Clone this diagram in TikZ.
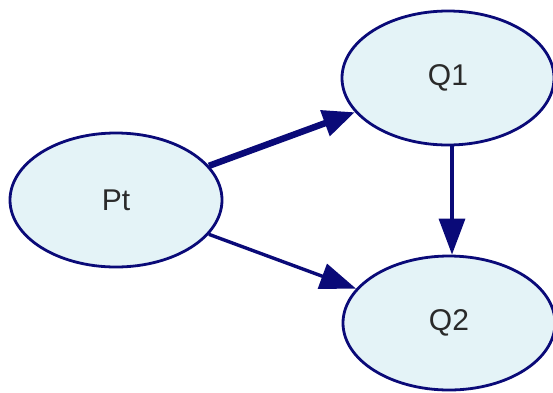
\documentclass[tikz,border=0pt]{standalone}
\usepackage{fontspec}
\setmainfont{Liberation Sans}
\usetikzlibrary{shapes.geometric,arrows.meta}
\definecolor{nodefill}{HTML}{E4F3F7}
\definecolor{navy}{HTML}{0A0A78}
\definecolor{txt}{HTML}{2A2A2A}
\tikzset{
  state/.style={ellipse, draw=navy, line width=2.8pt, fill=nodefill, inner sep=0pt,
    minimum width=212pt, minimum height=134pt, font=\fontsize{30}{34}\selectfont, text=txt},
  link/.style={draw=navy, line width=3.4pt, -{Triangle[length=36pt,width=26pt]}},
  thicklink/.style={draw=navy, line width=6.5pt, -{Triangle[length=32pt,width=26pt]}}
}
\begin{document}
\begin{tikzpicture}[x=1pt,y=-1pt]
\useasboundingbox (0,0) rectangle (553,392);
\node[state] (Pt) at (116,200) {Pt};
\node[state] (Q1) at (448,78) {Q1};
\node[state] (Q2) at (449,323) {Q2};
\draw[thicklink] (Pt) -- (Q1);
\draw[link] (Pt) -- (Q2);
\draw[link] (Q1.south -| 452,0) -- (Q2.north -| 452,0);
\end{tikzpicture}
\end{document}
